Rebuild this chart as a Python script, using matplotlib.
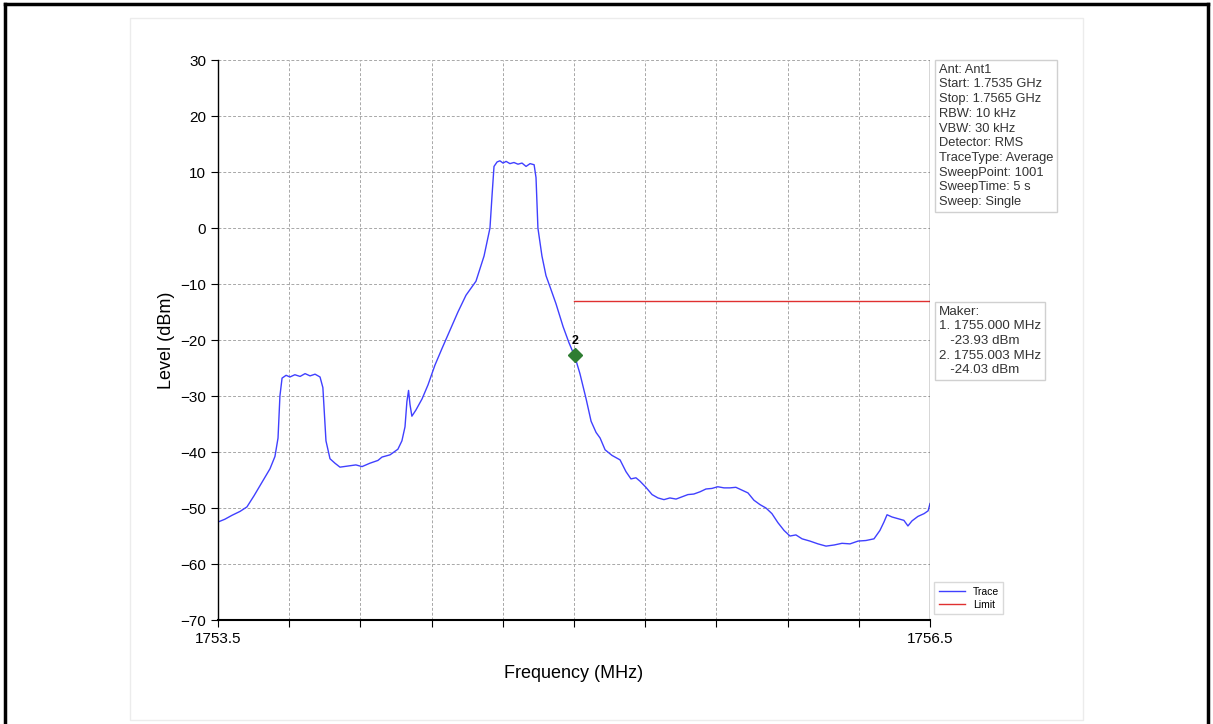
import matplotlib.pyplot as plt
from matplotlib.lines import Line2D

# Trace (MHz, dBm)
freq = [1753.500, 1753.529, 1753.559, 1753.593, 1753.622, 1753.652, 1753.677, 1753.698,
        1753.719, 1753.740, 1753.753, 1753.761, 1753.770, 1753.787, 1753.803, 1753.824,
        1753.846, 1753.867, 1753.888, 1753.909, 1753.930, 1753.942, 1753.955, 1753.972,
        1753.993, 1754.014, 1754.048, 1754.081, 1754.107, 1754.140, 1754.174, 1754.191,
        1754.225, 1754.258, 1754.275, 1754.288, 1754.296, 1754.303, 1754.309, 1754.317,
        1754.334, 1754.360, 1754.385, 1754.414, 1754.444, 1754.478, 1754.511, 1754.545,
        1754.587, 1754.621, 1754.646, 1754.655, 1754.663, 1754.676, 1754.688, 1754.701,
        1754.714, 1754.730, 1754.747, 1754.764, 1754.781, 1754.798, 1754.815, 1754.832,
        1754.840, 1754.848, 1754.865, 1754.882, 1754.899, 1754.924, 1754.954, 1754.979,
        1755.004, 1755.025, 1755.051, 1755.072, 1755.093, 1755.110, 1755.131, 1755.160,
        1755.194, 1755.219, 1755.240, 1755.261, 1755.278, 1755.303, 1755.329, 1755.354,
        1755.379, 1755.404, 1755.430, 1755.455, 1755.480, 1755.505, 1755.531, 1755.556,
        1755.581, 1755.606, 1755.632, 1755.657, 1755.682, 1755.708, 1755.733, 1755.758,
        1755.784, 1755.809, 1755.834, 1755.859, 1755.885, 1755.910, 1755.935, 1755.961,
        1755.994, 1756.028, 1756.062, 1756.096, 1756.129, 1756.163, 1756.197, 1756.230,
        1756.264, 1756.289, 1756.306, 1756.319, 1756.340, 1756.365, 1756.390, 1756.407,
        1756.424, 1756.449, 1756.475, 1756.492, 1756.500]
level = [-52.5, -52.0, -51.3, -50.6, -49.8, -47.8, -46.0, -44.5,
         -43.0, -40.8, -37.5, -30.0, -26.8, -26.3, -26.6, -26.2,
         -26.5, -26.0, -26.4, -26.1, -26.6, -28.5, -38.0, -41.2,
         -42.0, -42.7, -42.5, -42.3, -42.6, -42.0, -41.5, -40.9,
         -40.5, -39.5, -38.0, -35.5, -31.0, -29.0, -31.5, -33.6,
         -32.5, -30.5, -28.0, -24.5, -21.5, -18.2, -15.0, -12.0,
         -9.5, -5.0, 0.0, 6.0, 11.0, 11.8, 12.0, 11.6,
         11.9, 11.5, 11.7, 11.4, 11.6, 11.0, 11.5, 11.3,
         9.0, 0.0, -5.0, -8.5, -10.5, -13.5, -17.6, -20.5,
         -23.0, -26.0, -30.5, -34.5, -36.5, -37.5, -39.6, -40.6,
         -41.4, -43.5, -44.8, -44.6, -45.2, -46.3, -47.6, -48.2,
         -48.5, -48.2, -48.4, -48.0, -47.6, -47.5, -47.1, -46.6,
         -46.5, -46.2, -46.4, -46.4, -46.3, -46.8, -47.3, -48.6,
         -49.4, -50.0, -51.0, -52.6, -54.0, -55.0, -54.8, -55.5,
         -55.9, -56.4, -56.8, -56.6, -56.3, -56.4, -55.9, -55.8,
         -55.5, -54.0, -52.5, -51.2, -51.6, -51.9, -52.2, -53.2,
         -52.3, -51.5, -51.0, -50.5, -49.2]

limit_freq = [1755.0, 1756.5]
limit_level = [-13.0, -13.0]

marker_freq = [1755.000, 1755.003]
marker_level = [-22.6, -22.6]

settings = ["Ant: Ant1", "Start: 1.7535 GHz", "Stop: 1.7565 GHz", "RBW: 10 kHz",
            "VBW: 30 kHz", "Detector: RMS", "TraceType: Average", "SweepPoint: 1001",
            "SweepTime: 5 s", "Sweep: Single"]
marker_text = ["Maker:", "1. 1755.000 MHz", "   -23.93 dBm", "2. 1755.003 MHz", "   -24.03 dBm"]

plt.rcParams['font.family'] = ['Liberation Sans', 'DejaVu Sans']

fig = plt.figure(figsize=(12.13, 7.24), dpi=100)
ax = fig.add_axes([0.1797, 0.1436, 0.587, 0.7735])

ax.plot(freq, level, color="#4040ff", lw=1.0)
ax.plot(limit_freq, limit_level, color="#e03030", lw=1.0)
ax.plot(marker_freq[1], marker_level[1], marker="D", color="#2e7d32", ms=7)
ax.text(marker_freq[1], marker_level[1] + 1.3, "2", ha="center", va="bottom",
        fontsize=9, fontweight="bold")

ax.set_xlim(1753.5, 1756.5)
ax.set_ylim(-70, 30)
ax.set_xticks([1753.5 + 0.3 * i for i in range(11)])
ax.set_xticklabels(["1753.5"] + [""] * 9 + ["1756.5"])
ax.set_yticks(range(-70, 31, 10))
ax.tick_params(labelsize=11, length=5, direction="out")
ax.grid(True, color="#a8a8a8", ls=(0, (3, 2)), lw=0.7)
for side in ["top", "right"]:
    ax.spines[side].set_visible(False)
ax.axvline(1756.5, color="#333333", lw=1.0)
ax.spines["left"].set_linewidth(1.0)
ax.spines["bottom"].set_linewidth(1.5)

ax.set_xlabel("Frequency (MHz)", fontsize=13, labelpad=14)
ax.set_ylabel("Level (dBm)", fontsize=13, labelpad=4)

box = dict(boxstyle="square,pad=0.3", fc="white", ec="#d0d0d0", lw=1)
fig.text(0.774, 0.912, "\n".join(settings), fontsize=9.3, va="top", ha="left",
         color="#333333", linespacing=1.3, bbox=box)
fig.text(0.774, 0.578, "\n".join(marker_text), fontsize=9.6, va="top", ha="left",
         color="#333333", linespacing=1.3, bbox=box)

handles = [Line2D([], [], color="#4040ff", lw=1), Line2D([], [], color="#e03030", lw=1)]
fig.legend(handles, ["Trace", "Limit"], loc="lower left", bbox_to_anchor=(0.766, 0.145),
           fontsize=7.5, frameon=True, fancybox=False, edgecolor="#d0d0d0",
           handlelength=2.5, borderpad=0.4, labelspacing=0.3)

# light outline of the chart image and the black page frame
fig.add_artist(plt.Rectangle((0.107, 0.005), 0.786, 0.97, transform=fig.transFigure,
                             fill=False, ec="#ececec", lw=1))
fig.add_artist(Line2D([0.004, 0.004], [0, 0.995], color="black", lw=2.5))
fig.add_artist(Line2D([0.996, 0.996], [0, 0.995], color="black", lw=2.5))
fig.add_artist(Line2D([0.004, 0.996], [0.995, 0.995], color="black", lw=2.5))

fig.savefig("out.png", dpi=100)
